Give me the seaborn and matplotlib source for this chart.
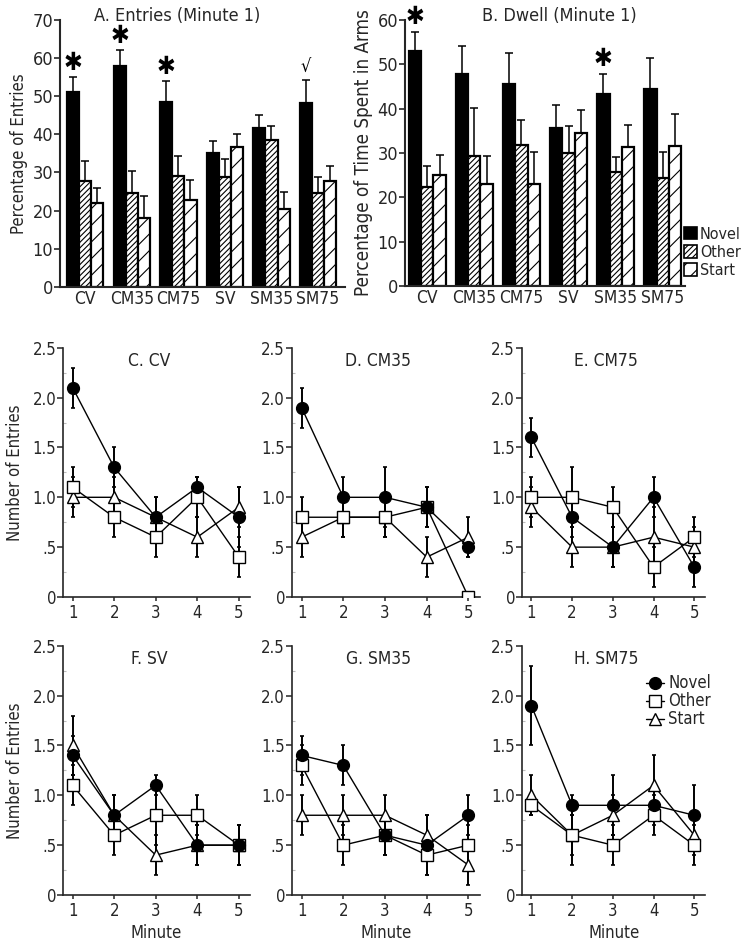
import matplotlib
matplotlib.use("Agg")
import matplotlib.pyplot as plt
from matplotlib.patches import Patch
from matplotlib.lines import Line2D
from matplotlib.ticker import MultipleLocator, FixedLocator
import seaborn as sns
import pandas as pd
import numpy as np

# ---------------- data ----------------
groups = ["CV", "CM35", "CM75", "SV", "SM35", "SM75"]
types = ["Novel", "Other", "Start"]

entries_novel = [51.0, 57.8, 48.5, 35.0, 41.7, 48.3]
entries_novel_err = [4.0, 4.2, 5.5, 3.3, 3.3, 5.9]
entries_other = [27.8, 24.5, 29.2, 28.8, 38.4, 24.5]
entries_other_err = [5.2, 6.0, 5.0, 4.7, 3.8, 4.2]
entries_start = [22.0, 18.2, 22.8, 36.8, 20.4, 27.7]
entries_start_err = [4.0, 5.6, 5.2, 3.4, 4.6, 4.1]
entries_marks = ["✱", "✱", "✱", "", "", "√"]

dwell_novel = [53.0, 47.8, 45.5, 35.7, 43.2, 44.3]
dwell_novel_err = [4.3, 6.2, 7.1, 5.0, 4.6, 7.0]
dwell_other = [22.4, 29.4, 31.8, 30.0, 25.8, 24.3]
dwell_other_err = [4.6, 10.8, 5.6, 6.0, 3.2, 5.8]
dwell_start = [25.0, 23.0, 23.0, 34.6, 31.4, 31.6]
dwell_start_err = [4.5, 6.3, 7.3, 5.0, 4.8, 7.1]
dwell_marks = ["✱", "", "", "", "✱", ""]

panel_titles = ["C. CV", "D. CM35", "E. CM75", "F. SV", "G. SM35", "H. SM75"]
minutes = [1, 2, 3, 4, 5]
novel = [[2.1, 1.3, 0.8, 1.1, 0.8], [1.9, 1.0, 1.0, 0.9, 0.5], [1.6, 0.8, 0.5, 1.0, 0.3],
         [1.4, 0.8, 1.1, 0.5, 0.5], [1.4, 1.3, 0.6, 0.5, 0.8], [1.9, 0.9, 0.9, 0.9, 0.8]]
novel_err = [[0.2, 0.2, 0.2, 0.1, 0.3], [0.2, 0.2, 0.3, 0.2, 0.1], [0.2, 0.2, 0.2, 0.2, 0.2],
             [0.2, 0.2, 0.1, 0.2, 0.2], [0.2, 0.2, 0.2, 0.3, 0.2], [0.4, 0.1, 0.3, 0.2, 0.3]]
other = [[1.1, 0.8, 0.6, 1.0, 0.4], [0.8, 0.8, 0.8, 0.9, 0.0], [1.0, 1.0, 0.9, 0.3, 0.6],
         [1.1, 0.6, 0.8, 0.8, 0.5], [1.3, 0.5, 0.6, 0.4, 0.5], [0.9, 0.6, 0.5, 0.8, 0.5]]
other_err = [[0.2, 0.2, 0.2, 0.2, 0.2], [0.2, 0.2, 0.2, 0.2, 0.0], [0.2, 0.3, 0.2, 0.2, 0.2],
             [0.2, 0.2, 0.3, 0.2, 0.2], [0.2, 0.2, 0.2, 0.2, 0.2], [0.1, 0.3, 0.2, 0.2, 0.2]]
start = [[1.0, 1.0, 0.8, 0.6, 0.9], [0.6, 0.8, 0.8, 0.4, 0.6], [0.9, 0.5, 0.5, 0.6, 0.5],
         [1.5, 0.8, 0.4, 0.5, 0.5], [0.8, 0.8, 0.8, 0.6, 0.3], [1.0, 0.6, 0.8, 1.1, 0.6]]
start_err = [[0.2, 0.2, 0.2, 0.2, 0.2], [0.2, 0.2, 0.2, 0.2, 0.2], [0.2, 0.2, 0.2, 0.3, 0.2],
             [0.3, 0.2, 0.2, 0.2, 0.2], [0.2, 0.2, 0.2, 0.2, 0.2], [0.2, 0.2, 0.2, 0.3, 0.2]]
ytick_labels = ["0", ".5", "1.0", "1.5", "2.0", "2.5"]

# ---------------- style ----------------
sns.set_theme(style="ticks")
plt.rcParams["font.family"] = ["DejaVu Sans"]
plt.rcParams["font.stretch"] = "condensed"
plt.rcParams["hatch.linewidth"] = 0.8
plt.rcParams["axes.linewidth"] = 1.5

fig = plt.figure(figsize=(7.42, 9.44), dpi=100)
fig.patch.set_facecolor("white")

hatches = {"Novel": "", "Other": "//////", "Start": "//"}
faces = {"Novel": "black", "Other": "white", "Start": "white"}


def bar_panel(ax, nov, nov_e, oth, oth_e, sta, sta_e, marks, ylim, title, title_x,
              ylabel, ylabel_size, xlim):
    df = pd.DataFrame({
        "group": groups * 3,
        "type": [t for t in types for _ in groups],
        "value": nov + oth + sta,
    })
    errs = {"Novel": nov_e, "Other": oth_e, "Start": sta_e}
    sns.barplot(data=df, x="group", y="value", hue="type", order=groups, hue_order=types,
                palette=faces, width=0.78, edgecolor="black", linewidth=1.6,
                errorbar=None, legend=False, ax=ax, saturation=1)
    novel_x, novel_top = None, None
    for cont, t in zip(ax.containers, types):
        xs, tops = [], []
        for p in cont.patches:
            p.set_hatch(hatches[t])
            p.set_facecolor(faces[t])
            p.set_edgecolor("black")
            p.set_zorder(2)
            xs.append(p.get_x() + p.get_width() / 2)
            tops.append(p.get_height())
        e = np.array(errs[t])
        ax.errorbar(xs, tops, yerr=[np.zeros_like(e), e], fmt="none", ecolor="black",
                    elinewidth=1.1, capsize=3.2, capthick=1.1, zorder=1)
        if t == "Novel":
            novel_x = xs
            novel_top = [a + b for a, b in zip(tops, e)]
    for x, top, m in zip(novel_x, novel_top, marks):
        if not m:
            continue
        if m == "√":
            ax.text(x, top + 1.0, m, ha="center", va="bottom", fontsize=13, color="black")
        else:
            ax.text(x, top + 0.6, m, ha="center", va="bottom", fontsize=18,
                    fontweight="bold", color="black")
    ax.set_ylim(*ylim)
    ax.set_xlim(*xlim)
    ax.yaxis.set_major_locator(MultipleLocator(10))
    ax.set_xlabel("")
    ax.set_ylabel(ylabel, fontsize=ylabel_size, labelpad=3)
    ax.tick_params(axis="y", direction="out", length=4, width=1.2, labelsize=13, pad=1)
    ax.tick_params(axis="x", length=0, labelsize=12.5, pad=2)
    sns.despine(ax=ax)
    ax.text(title_x, 1.013, title, transform=ax.transAxes, ha="center", va="center",
            fontsize=13)
    ax.set_facecolor("white")


axA = fig.add_axes([0.081, 0.696, 0.384, 0.283])
bar_panel(axA, entries_novel, entries_novel_err, entries_other, entries_other_err,
          entries_start, entries_start_err, entries_marks, (0, 70),
          "A. Entries (Minute 1)", 0.41, "Percentage of Entries", 12, (-0.54, 5.58))

axB = fig.add_axes([0.546, 0.697, 0.377, 0.282])
bar_panel(axB, dwell_novel, dwell_novel_err, dwell_other, dwell_other_err,
          dwell_start, dwell_start_err, dwell_marks, (0, 60),
          "B. Dwell (Minute 1)", 0.55, "Percentage of Time Spent in Arms", 13.5,
          (-0.47, 5.47))

bar_handles = [Patch(facecolor=faces[t], edgecolor="black", hatch=hatches[t], linewidth=1.2)
               for t in types]
fig.legend(bar_handles, types, loc="upper left", bbox_to_anchor=(0.922, 0.76),
           frameon=False, fontsize=11.5, handlelength=0.8, handleheight=0.85,
           handletextpad=0.2, labelspacing=0.2, borderpad=0, borderaxespad=0)

# ---------------- line panels ----------------
lefts = [0.085, 0.3935, 0.7035]
widths = [0.252, 0.253, 0.247]
bottoms = [0.3676, 0.0519]
height = 0.264

styles = {
    "Novel": dict(marker="o", markersize=8.5, markerfacecolor="black"),
    "Other": dict(marker="s", markersize=8, markerfacecolor="white"),
    "Start": dict(marker="^", markersize=8, markerfacecolor="white"),
}

for i in range(6):
    r, c = divmod(i, 3)
    ax = fig.add_axes([lefts[c], bottoms[r], widths[c], height])
    series = {"Novel": (novel[i], novel_err[i]), "Other": (other[i], other_err[i]),
              "Start": (start[i], start_err[i])}
    for t in ["Start", "Other", "Novel"]:
        vals, errs = series[t]
        ax.errorbar(minutes, vals, yerr=errs, fmt="none", ecolor="black", elinewidth=1.4,
                    capsize=1.5, capthick=1.2, zorder=2)
    for t in ["Start", "Other", "Novel"]:
        vals, _ = series[t]
        sns.lineplot(x=minutes, y=vals, ax=ax, color="black", linewidth=1.0,
                     markeredgecolor="black", markeredgewidth=1.0, zorder=3,
                     errorbar=None, **styles[t])
    ax.set_xlim(0.77, 5.27)
    ax.set_ylim(0, 2.5)
    ax.xaxis.set_major_locator(FixedLocator(minutes))
    ax.set_xticklabels([str(m) for m in minutes])
    ax.yaxis.set_major_locator(FixedLocator([0, 0.5, 1.0, 1.5, 2.0, 2.5]))
    ax.set_yticklabels(ytick_labels)
    ax.yaxis.set_minor_locator(MultipleLocator(0.25))
    ax.tick_params(axis="y", which="major", direction="out", length=4, width=1.1,
                   labelsize=12, pad=1)
    ax.tick_params(axis="y", which="minor", direction="in", length=2, width=0.8,
                   color="#bbbbbb")
    ax.tick_params(axis="x", direction="out", length=3, width=1.1, labelsize=12, pad=2)
    for s in ["left", "bottom"]:
        ax.spines[s].set_linewidth(1.2)
    sns.despine(ax=ax)
    ax.set_facecolor("white")
    ax.text(0.46, 0.985, panel_titles[i], transform=ax.transAxes, ha="center", va="top",
            fontsize=12.5)
    ax.set_ylabel("Number of Entries" if c == 0 else "", fontsize=12, labelpad=6)
    ax.set_xlabel("Minute" if r == 1 else "", fontsize=12, labelpad=3)
    if i == 5:
        handles = [Line2D([0], [0], color="black", lw=1.0, markeredgecolor="black",
                          markeredgewidth=1.0, **styles[t]) for t in types]
        ax.legend(handles, types, loc="upper right", bbox_to_anchor=(1.03, 0.885),
                  frameon=False, fontsize=12, handlelength=1.1, handletextpad=0.25,
                  labelspacing=0.0, borderpad=0, borderaxespad=0)

fig.savefig("out.png", dpi=100, facecolor="white")
